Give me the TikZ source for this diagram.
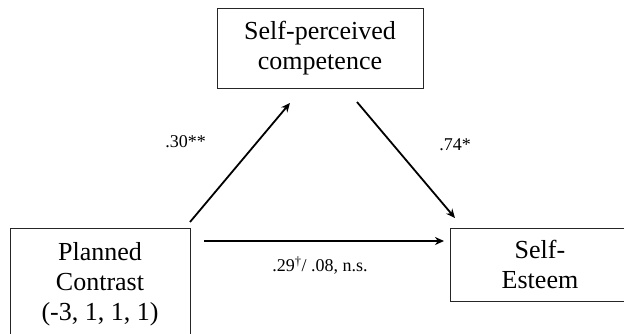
\documentclass[tikz,border=0pt]{standalone}
\usepackage{fontspec}
\setmainfont{Liberation Serif}
\usetikzlibrary{arrows.meta}
\begin{document}
\begin{tikzpicture}[x=1pt,y=1pt,
  box/.style={draw=black!85, line width=0.9pt, rectangle, align=center, inner sep=0pt,
    font=\fontsize{26}{30}\selectfont},
  lbl/.style={font=\fontsize{18}{20}\selectfont, inner sep=0pt},
  arr/.style={line width=1.8pt, -{Stealth[length=9pt,width=8pt]}}]
\clip (0,0) rectangle (624,333);
\fill[white] (0,0) rectangle (624,333);
\node[box, minimum width=206, minimum height=80] (spc) at (320,285) {Self-perceived\\competence};
\node[box, minimum width=180, minimum height=112] (pc) at (100,49) {Planned\\Contrast\\(-3, 1, 1, 1)};
\node[box, minimum width=180, minimum height=73] (se) at (540,68.5) {Self-\\Esteem};
\coordinate (a1s) at (190,111);
\coordinate (a1e) at (290,230);
\coordinate (a2s) at (357,231);
\coordinate (a2e) at (455,115);
\coordinate (a3s) at (204,92);
\coordinate (a3e) at (444,92);
\draw[arr] (a1s) -- (a1e);
\draw[arr] (a2s) -- (a2e);
\draw[arr] (a3s) -- (a3e);
\node[lbl] (l1) at (185.5,191.5) {.30**};
\node[lbl] (l2) at (455,188) {.74*};
\node[lbl] (l3) at (320,67.5) {.29\textsuperscript{†}/ .08, n.s.};
\end{tikzpicture}
\end{document}
